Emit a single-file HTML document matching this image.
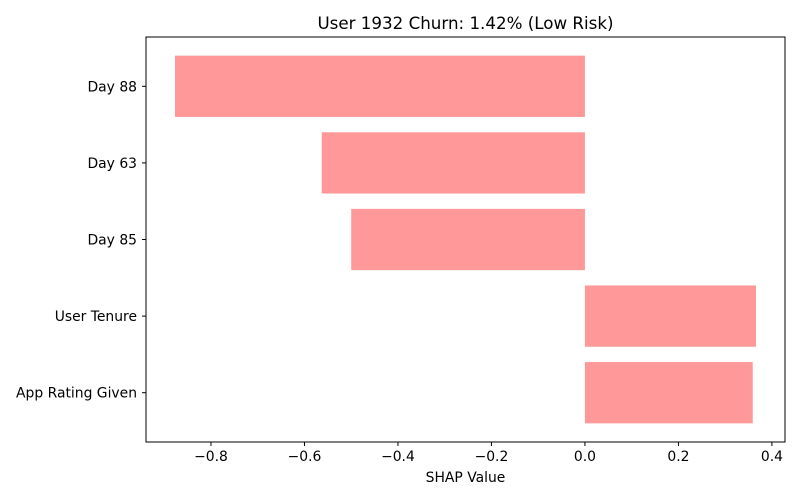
<!DOCTYPE html>
<html><head><meta charset="utf-8"><style>
body{margin:0;background:#fff;font-family:"DejaVu Sans",sans-serif;}
</style></head><body>
<svg id="chart" width="800" height="500" xmlns="http://www.w3.org/2000/svg" font-family="DejaVu Sans, sans-serif">
<text x="465.5" y="29" text-anchor="middle" font-size="16.7" fill="#000">User 1932 Churn: 1.42% (Low Risk)</text>
<g id="bars"></g>
<rect x="146" y="37" width="639" height="405" fill="none" stroke="#000" stroke-width="1"/>
<g id="xticks"></g><g id="yticks"></g>
<text x="465.5" y="482" text-anchor="middle" font-size="13.9" fill="#000">SHAP Value</text>
</svg>
<script>
const features = ["Day 88","Day 63","Day 85","User Tenure","App Rating Given"];
const shapValues = [-0.877,-0.563,-0.5,0.366,0.359];
const xTicks = [-0.8,-0.6,-0.4,-0.2,0.0,0.2,0.4];
const xTickLabels = ["\u22120.8","\u22120.6","\u22120.4","\u22120.2","0.0","0.2","0.4"];

const NS="http://www.w3.org/2000/svg";
const x0=146,x1=785,y0=37,y1=442,dMin=-0.939,dMax=0.428;
function xs(v){return x0+(v-dMin)/(dMax-dMin)*(x1-x0);}
const band=(y1-y0-22)/features.length;
function yc(i){return y0+11+band*(i+0.5);}
const bars=document.getElementById('bars'),xt=document.getElementById('xticks'),yt=document.getElementById('yticks');
features.forEach((f,i)=>{
  const v=shapValues[i];
  const r=document.createElementNS(NS,'rect');
  r.setAttribute('x',Math.min(xs(0),xs(v)));
  r.setAttribute('width',Math.abs(xs(v)-xs(0)));
  r.setAttribute('y',yc(i)-band*0.4);
  r.setAttribute('height',band*0.8);
  r.setAttribute('fill','#ff9999');
  
  
  bars.appendChild(r);
  const l=document.createElementNS(NS,'line');
  l.setAttribute('x1',x0-4);l.setAttribute('x2',x0);l.setAttribute('y1',yc(i));l.setAttribute('y2',yc(i));l.setAttribute('stroke','#000');
  
  
  yt.appendChild(l);
  const t=document.createElementNS(NS,'text');
  t.setAttribute('x',x0-9);t.setAttribute('y',yc(i)+5);t.setAttribute('text-anchor','end');t.setAttribute('font-size','13.9');
  t.textContent=f;
  
  
  yt.appendChild(t);
});
xTicks.forEach((v,i)=>{
  const l=document.createElementNS(NS,'line');
  l.setAttribute('x1',xs(v));l.setAttribute('x2',xs(v));l.setAttribute('y1',y1);l.setAttribute('y2',y1+4);l.setAttribute('stroke','#000');
  
  
  xt.appendChild(l);
  const t=document.createElementNS(NS,'text');
  t.setAttribute('x',xs(v));t.setAttribute('y',y1+19);t.setAttribute('text-anchor','middle');t.setAttribute('font-size','13.9');
  t.textContent=xTickLabels[i];
  
  
  xt.appendChild(t);
});
</script>
</body></html>
